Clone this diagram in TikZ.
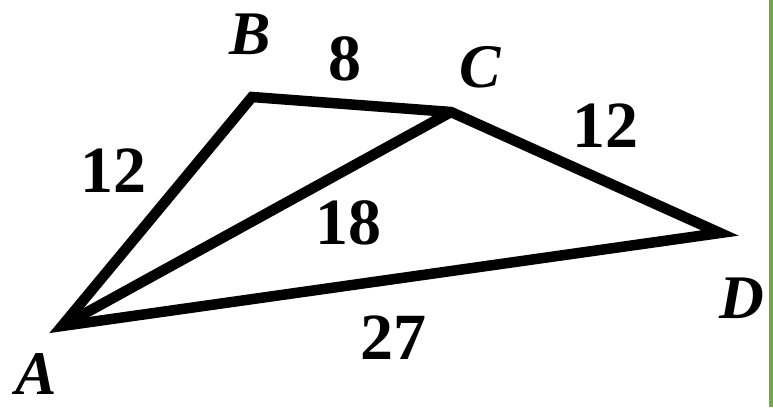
\documentclass[tikz,border=0pt]{standalone}
\usepackage{fontspec}
\setmainfont{Liberation Serif}
\definecolor{sidegreen}{RGB}{112,170,64}
\begin{document}
\begin{tikzpicture}[x=1pt,y=-1pt,line width=10.5pt,
    vname/.style={font=\fontsize{62}{70}\selectfont\bfseries\itshape, inner sep=0pt},
    len/.style={font=\fontsize{66}{70}\selectfont\bfseries, inner sep=0pt}]
    \useasboundingbox (0,0) rectangle (773,407);
    \coordinate (A) at (62,326);
    \coordinate (B) at (252,97);
    \coordinate (C) at (451,112);
    \coordinate (D) at (720,233);
    \draw (A) -- (B) -- (C) -- (D) -- cycle;
    \draw (A) -- (C);
    \node (nA) [vname] at (36,374) {A};
    \node (nB) [vname] at (250,34) {B};
    \node (nC) [vname] at (480,67) {C};
    \node (nD) [vname] at (742,298) {D};
    \node (lAB) [len] at (113,171) {12};
    \node (lBC) [len] at (345,59) {8};
    \node (lCD) [len] at (605,126) {12};
    \node (lAC) [len] at (348,223) {18};
    \node (lAD) [len] at (393,338) {27};
    \draw[sidegreen, line width=4pt] (771,0) -- (771,407);
  \end{tikzpicture}
\end{document}
